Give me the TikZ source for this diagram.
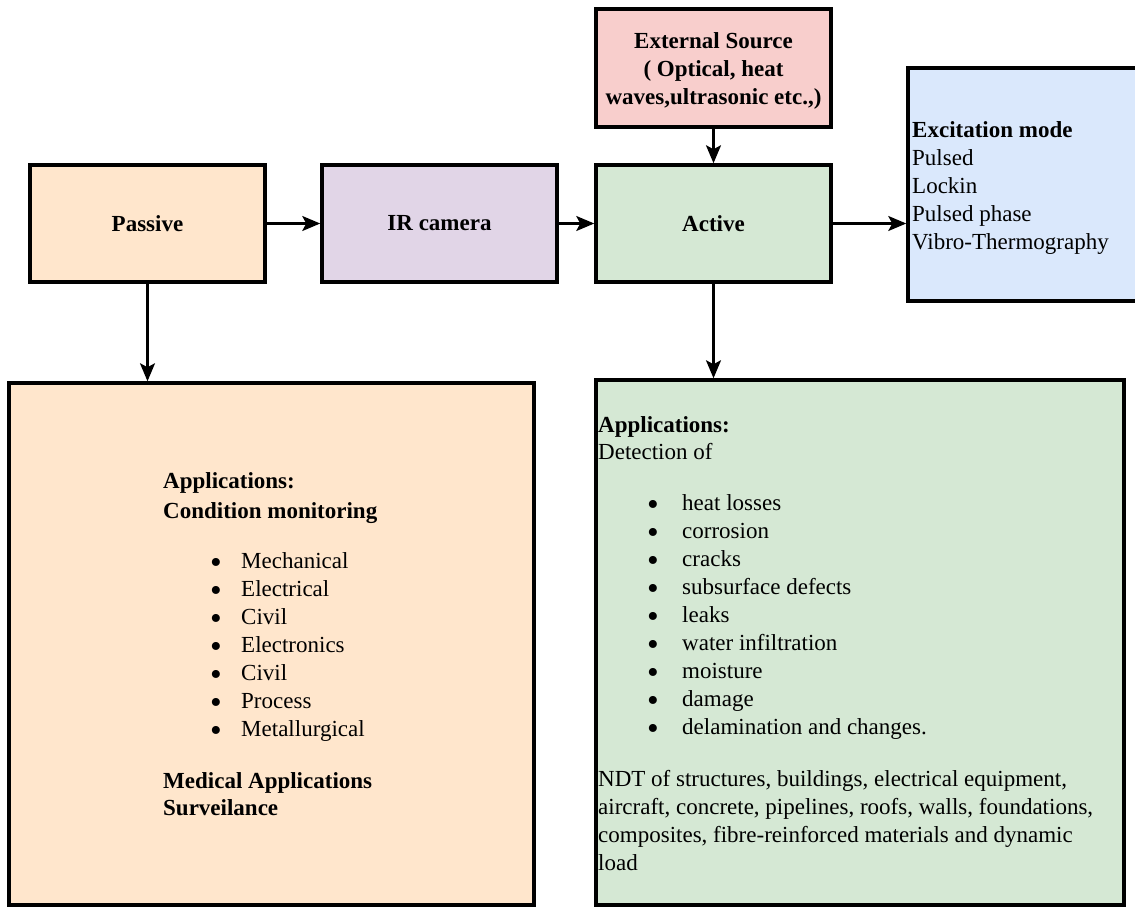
\documentclass[tikz,border=0pt]{standalone}
\usepackage{fontspec}
\usepackage{graphicx}
\setmainfont{Liberation Serif}
\usetikzlibrary{arrows.meta}
\definecolor{cPassive}{HTML}{FFE6CC}
\definecolor{cIR}{HTML}{E1D5E7}
\definecolor{cActive}{HTML}{D5E8D4}
\definecolor{cExt}{HTML}{F8CECC}
\definecolor{cExc}{HTML}{DAE8FC}
\newcommand{\bigbul}{\smash{\raisebox{-4.8pt}{\scalebox{1.45}{\textbullet}}}}
\newcommand{\litemA}[1]{\hspace*{47pt}\makebox[31pt][l]{\bigbul}#1}
\newcommand{\litemB}[1]{\hspace*{49pt}\makebox[35pt][l]{\bigbul}#1}
\begin{document}
\begin{tikzpicture}[x=1pt,y=-1pt,
  box/.style={draw=black, line width=3.5pt, rectangle, inner sep=0pt},
  lbl/.style={font=\fontsize{23}{28}\selectfont\bfseries},
  txt/.style={font=\fontsize{23}{28}\selectfont, anchor=north west, inner sep=0pt, align=left},
  arr/.style={line width=2.2pt, -{Stealth[length=18pt,width=15pt,inset=4pt]}}]
\useasboundingbox (0,0) rectangle (1135,908);
\clip (0,0) rectangle (1135,908);

\node[box, fill=cPassive, minimum width=235pt, minimum height=117pt, lbl] (passive) at (147.5,223.5) {Passive};
\node[box, fill=cIR, minimum width=235pt, minimum height=117pt, lbl] (ir) at (439.5,223.5) {IR camera};
\node[box, fill=cActive, minimum width=235pt, minimum height=117pt, lbl] (active) at (713.5,223.5) {Active};
\node[box, fill=cExt, minimum width=235pt, minimum height=118pt] (ext) at (713.5,68) {};
\node[box, fill=cExc, minimum width=234pt, minimum height=233pt] (exc) at (1025,184.5) {};
\node[box, fill=cPassive, minimum width=525pt, minimum height=522pt] (lapp) at (271.5,644) {};
\node[box, fill=cActive, minimum width=528pt, minimum height=525pt] (rapp) at (860,642.5) {};

\node[lbl, anchor=north, inner sep=0pt, align=center] (exttxt) at (713.5,28.4)
  {\strut External Source\\( Optical, heat\\waves,ultrasonic etc.,)};

\node[txt] (exctxt) at (912,117.4)
  {\strut\textbf{Excitation mode}\\Pulsed\\Lockin\\Pulsed phase\\Vibro-Thermography};

\node[txt] (ltxt) at (163,468.9)
  {\strut\textbf{Applications:}\\[1.5pt]
   \textbf{Condition monitoring}\\[22.6pt]
   \litemA{Mechanical}\\
   \litemA{Electrical}\\
   \litemA{Civil}\\
   \litemA{Electronics}\\
   \litemA{Civil}\\
   \litemA{Process}\\
   \litemA{Metallurgical}\\[23.6pt]
   \textbf{Medical Applications}\\[-0.6pt]
   \textbf{Surveilance}};

\node[txt] (rtxt) at (598,412.4)
  {\strut\textbf{Applications:}\\[-1pt]
   Detection of\\[23pt]
   \litemB{heat losses}\\
   \litemB{corrosion}\\
   \litemB{cracks}\\
   \litemB{subsurface defects}\\
   \litemB{leaks}\\
   \litemB{water infiltration}\\
   \litemB{moisture}\\
   \litemB{damage}\\
   \litemB{delamination and changes.}\\[24pt]
   NDT of structures, buildings, electrical equipment,\\
   aircraft, concrete, pipelines, roofs, walls, foundations,\\
   composites, fibre-reinforced materials and dynamic\\
   load};

\draw[arr] (passive.east) -- (ir.west);
\draw[arr] (ir.east) -- (active.west);
\draw[arr] (ext.south) -- (active.north);
\draw[arr] (active.east) -- (active.east -| exc.west);
\draw[arr] (passive.south) -- (passive.south |- lapp.north);
\draw[arr] (active.south) -- (active.south |- rapp.north);
\end{tikzpicture}
\end{document}
